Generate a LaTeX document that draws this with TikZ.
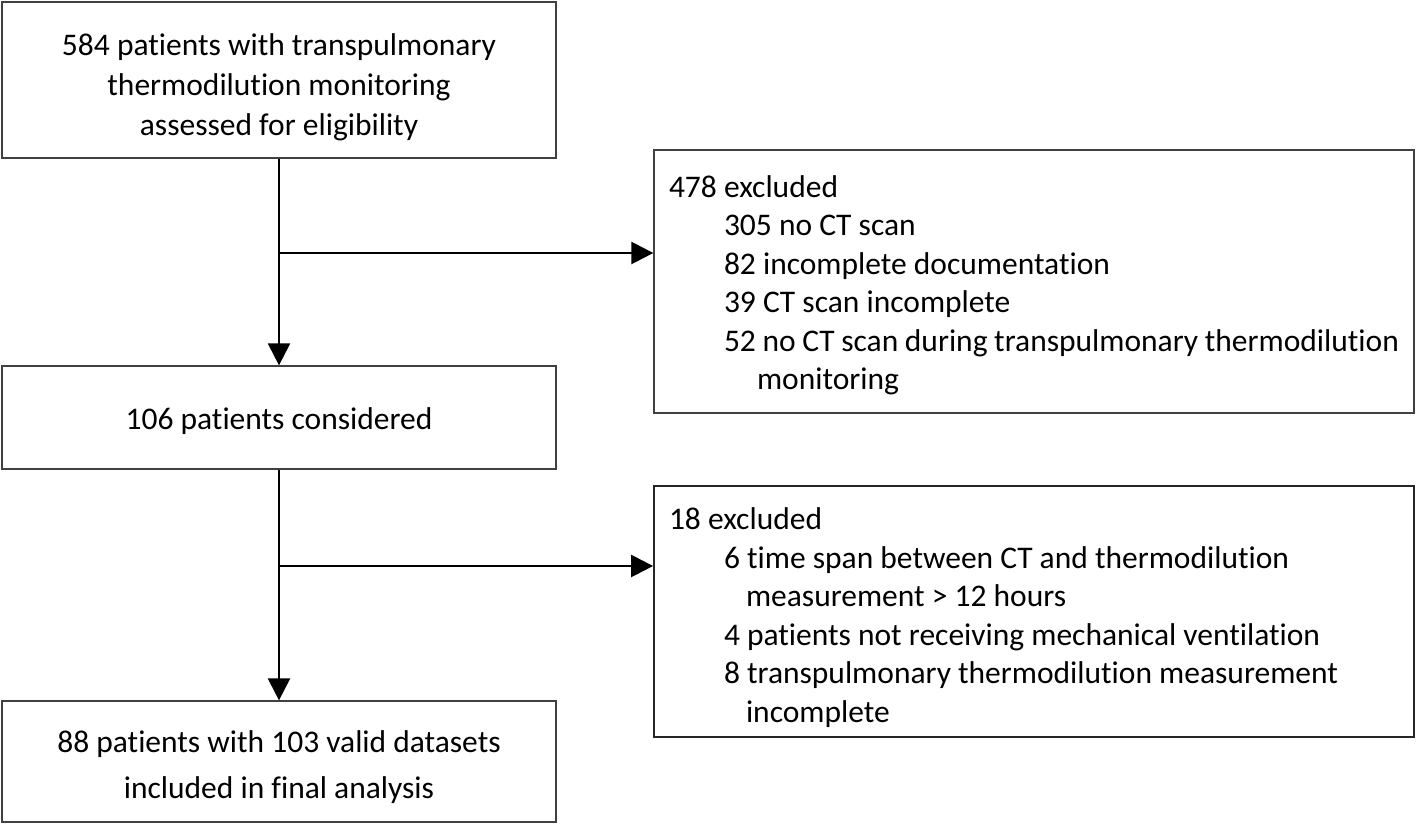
\documentclass[tikz,border=0pt]{standalone}
\usepackage{fontspec}
\setmainfont[Ligatures=NoCommon]{Carlito}
\usetikzlibrary{arrows.meta}
\begin{document}
\begin{tikzpicture}[x=1pt,y=-1pt,
  box/.style={draw=black!75,line width=1.3pt,inner sep=0pt,minimum width=554pt},
  boxtext/.style={inner sep=0pt,align=center,font=\fontsize{31.5}{40}\selectfont},
  sidebox/.style={draw=black!75,line width=1.3pt,inner sep=0pt,minimum width=760pt},
  sidetext/.style={inner sep=0pt,text width=730pt,align=flush left,
    font=\fontsize{31.5}{38.5}\selectfont},
  flow/.style={line width=2.4pt,-{Triangle[length=22pt,width=22pt]}}]
\useasboundingbox (0,0) rectangle (1418,825);
\fill[white] (0,0) rectangle (1418,825);
\node[box,minimum height=156pt] (b1) at (279,80) {};
\node[boxtext] (b1t) at ([yshift=-7pt]b1.center) {584 patients with transpulmonary\\thermodilution monitoring\\assessed for eligibility};
\node[box,minimum height=103pt] (b2) at (279,417.5) {};
\node[boxtext] (b2t) at ([yshift=-4pt]b2.center) {106 patients considered};
\node[box,minimum height=121pt] (b3) at (279,761.5) {};
\node[boxtext,font=\fontsize{31.5}{46}\selectfont] (b3t) at ([yshift=-6pt]b3.center) {88 patients with 103 valid datasets\\included in final analysis};
\node[sidebox,minimum height=263pt] (e1) at (1034,281.5) {};
\node[sidetext] (e1t) at ([yshift=-4pt]e1.center) {478 excluded\\
\hspace*{55pt}305 no CT scan\\
\hspace*{55pt}82 incomplete documentation\\
\hspace*{55pt}39 CT scan incomplete\\
\hspace*{55pt}52 no CT scan during transpulmonary thermodilution\\
\hspace*{88pt}monitoring};
\node[sidebox,minimum height=251pt,line width=1.8pt,draw=black!85] (e2) at (1034,611.5) {};
\node[sidetext] (e2t) at ([yshift=-6pt]e2.center) {18 excluded\\
\hspace*{55pt}6 time span between CT and thermodilution\\
\hspace*{77pt}measurement > 12 hours\\
\hspace*{55pt}4 patients not receiving mechanical ventilation\\
\hspace*{55pt}8 transpulmonary thermodilution measurement\\
\hspace*{77pt}incomplete};
\coordinate (j1) at (b1.south |- 0,253);
\coordinate (j2) at (b2.south |- 0,566);
\draw[flow] (b1.south) -- (b2.north);
\draw[flow] (j1) -- (j1 -| e1.west);
\draw[flow] (b2.south) -- (b3.north);
\draw[flow] (j2) -- (j2 -| e2.west);
\end{tikzpicture}
\end{document}
